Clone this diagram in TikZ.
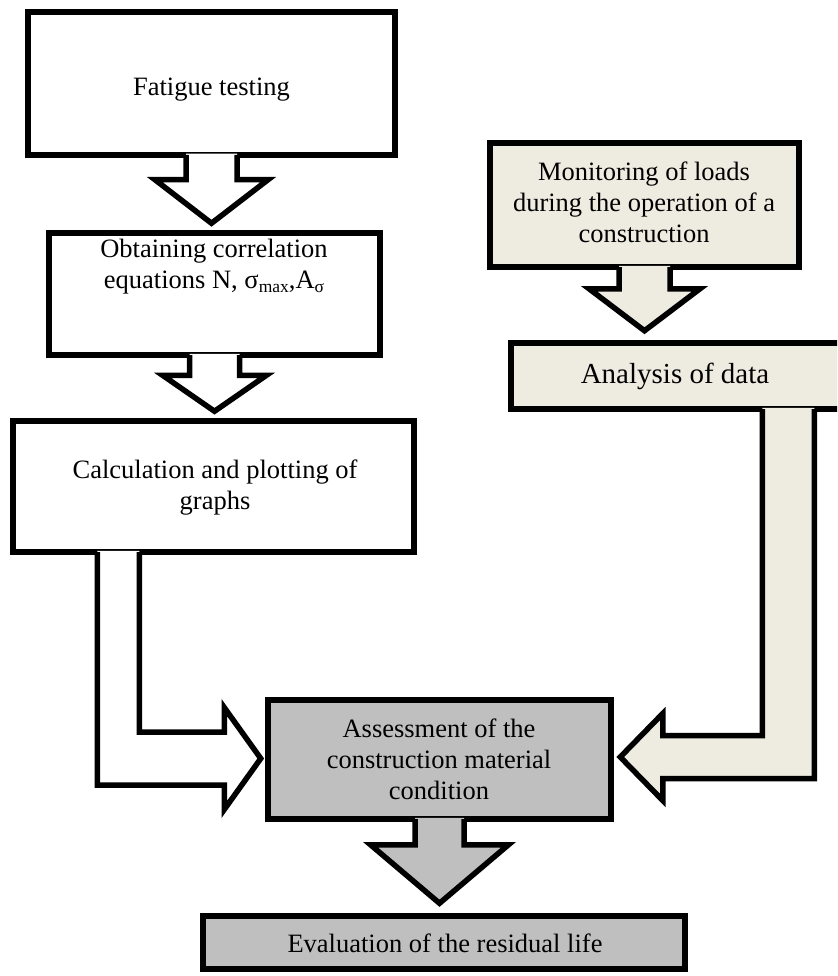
\documentclass[tikz,border=0pt]{standalone}
\usepackage{fontspec}
\setmainfont{Liberation Serif}
\usetikzlibrary{calc}
\definecolor{beige}{HTML}{EEECE1}
\definecolor{grayfill}{HTML}{BFBFBF}
\newcommand\sbx[1]{\raisebox{-3.5pt}{\fontsize{17.5}{17.5}\selectfont #1}}
% #1 source node, #2 target node, #3 fill, #4 stem half width, #5 shoulder drop, #6 head half width, #7 gap of tip
\newcommand\dnarrow[7]{%
  \path (#1.south) coordinate (s) (#1.south |- #2.north) coordinate (t);
  \fill[#3] ($(s)+(-#4,-4)$) -- ($(s)+(-#4,#5)$) -- ($(s)+(-#6,#5)$) -- ($(t)+(0,-#7)$)
     -- ($(s)+(#6,#5)$) -- ($(s)+(#4,#5)$) -- ($(s)+(#4,-4)$) -- cycle;
  \draw[ln] ($(s)+(-#4,-2.75)$) -- ($(s)+(-#4,#5)$) -- ($(s)+(-#6,#5)$) -- ($(t)+(0,-#7)$)
     -- ($(s)+(#6,#5)$) -- ($(s)+(#4,#5)$) -- ($(s)+(#4,-2.75)$);
}
\begin{document}
\begin{tikzpicture}[x=1pt,y=-1pt,
  ln/.style={line width=5.5pt, line join=miter},
  box/.style={draw, line width=5.5pt, inner sep=0pt},
  txt/.style={align=center, font=\fontsize{26.5}{31}\selectfont, inner sep=0pt}]
\useasboundingbox (0,0) rectangle (837,976);
\fill[white] (0,0) rectangle (837,976);
\clip (0,0) rectangle (837,976);
% boxes
\node[box, fill=white, minimum width=367pt, minimum height=143pt] (fat) at (211.5,83.5) {};
\node[box, fill=white, minimum width=331pt, minimum height=122pt] (obt) at (214.5,294) {};
\node[box, fill=white, minimum width=401pt, minimum height=131pt] (calc) at (213.5,486.5) {};
\node[box, fill=beige, minimum width=309pt, minimum height=124pt] (mon) at (644.5,205) {};
\node[box, fill=beige, minimum width=349pt, minimum height=66pt] (ana) at (685.5,376) {};
\node[box, fill=grayfill, minimum width=343pt, minimum height=119pt] (assess) at (439.5,759.5) {};
\node[box, fill=grayfill, minimum width=482pt, minimum height=53pt] (eval) at (444,942.5) {};
% straight arrows
\dnarrow{fat}{obt}{white}{25.5}{22}{56.5}{7}
\dnarrow{obt}{calc}{white}{25}{17.5}{52}{7}
\path (mon.south) coordinate (s) (mon.south |- ana.north) coordinate (t);
\fill[beige] ($(s)+(-25.5,-4)$) -- ($(s)+(-25.5,19)$) -- ($(s)+(-55.5,19)$) -- ($(t)+(0,-9.5)$)
   -- ($(s)+(55.5,19)$) -- ($(s)+(25.5,19)$) -- ($(s)+(25.5,-4)$) -- cycle;
\draw[ln] ($(s)+(-25.5,-2.75)$) -- ($(s)+(-25.5,19)$) -- ($(s)+(-55.5,19)$) -- ($(t)+(0,-9.5)$)
   -- ($(s)+(55.5,19)$) -- ($(s)+(25.5,19)$) -- ($(s)+(25.5,-2.75)$);
\dnarrow{assess}{eval}{grayfill}{24.5}{23}{69}{10}
% bent arrow from calc to assess
\coordinate (tipL) at ($(assess.west)+(-4.5,-1)$);
\fill[white] ($(calc.south west)+(87,-4)$) |- ($(tipL)+(-36.5,26.5)$) -- ($(tipL)+(-36.5,51)$)
  -- (tipL) -- ($(tipL)+(-36.5,-51)$) -- ($(tipL)+(-36.5,-26.5)$) -| ($(calc.south west)+(129,-4)$) -- cycle;
\draw[ln] ($(calc.south west)+(87,-2.75)$) |- ($(tipL)+(-36.5,26.5)$) -- ($(tipL)+(-36.5,51)$)
  -- (tipL) -- ($(tipL)+(-36.5,-51)$) -- ($(tipL)+(-36.5,-26.5)$) -| ($(calc.south west)+(129,-2.75)$);
% bent arrow from ana to assess
\coordinate (tipR) at ($(assess.east)+(6.5,-2.5)$);
\fill[beige] ($(ana.south west)+(306,-4)$) |- ($(tipR)+(42.5,21.5)$) -- ($(tipR)+(42.5,43.5)$)
  -- (tipR) -- ($(tipR)+(42.5,-43.5)$) -- ($(tipR)+(42.5,-21.5)$) -| ($(ana.south west)+(254,-4)$) -- cycle;
\draw[ln] ($(ana.south west)+(306,-2.75)$) |- ($(tipR)+(42.5,21.5)$) -- ($(tipR)+(42.5,43.5)$)
  -- (tipR) -- ($(tipR)+(42.5,-43.5)$) -- ($(tipR)+(42.5,-21.5)$) -| ($(ana.south west)+(254,-2.75)$);
% texts
\node[txt] (fatT) at (211.5,90) {Fatigue testing};
\node[txt] (obtT) at (214,267) {Obtaining correlation\\equations N, σ\sbx{max},A\sbx{σ}};
\node[txt] (calcT) at (215,488) {Calculation and plotting of\\graphs};
\node[txt] (monT) at (644,202) {Monitoring of loads\\during the operation of a\\construction};
\node[txt, font=\fontsize{29}{33}\selectfont] (anaT) at (675,376) {Analysis of data};
\node[txt] (assessT) at (439,759) {Assessment of the\\construction material\\condition};
\node[txt] (evalT) at (445,943) {Evaluation of the residual life};
\end{tikzpicture}
\end{document}
